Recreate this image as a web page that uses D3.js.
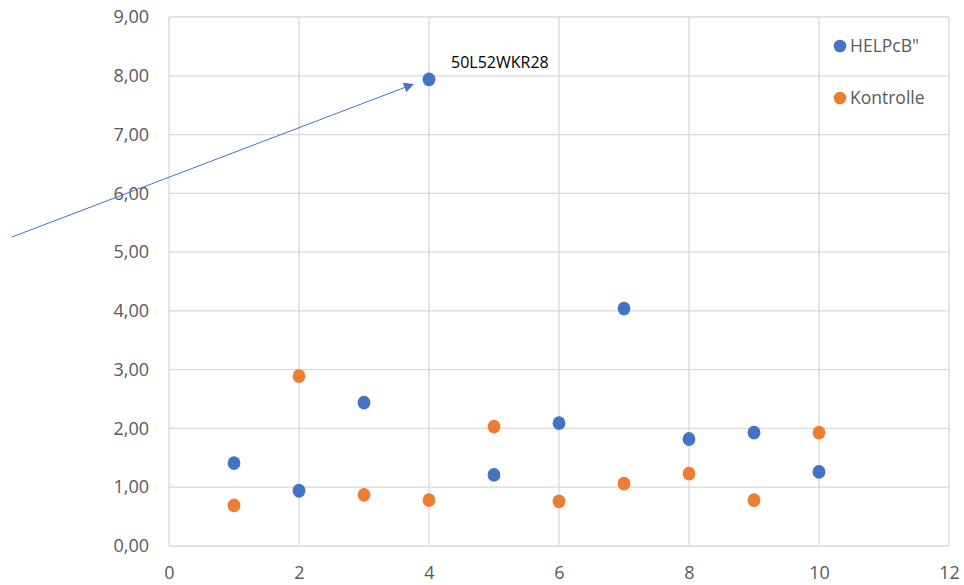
<!DOCTYPE html>
<html>
<head>
<meta charset="utf-8">
<script src="https://cdn.jsdelivr.net/npm/d3@7"></script>
<style>
  html, body { margin: 0; padding: 0; background: #fff; }
  svg { display: block; font-family: "Open Sans", "Noto Sans", sans-serif; }
</style>
</head>
<body>
<svg id="chart" width="964" height="585"></svg>
<script>
// Sample index (x) and the two measured series
const xValues = [1, 2, 3, 4, 5, 6, 7, 8, 9, 10];
const helpcbValues = [1.41, 0.94, 2.44, 7.94, 1.21, 2.09, 4.04, 1.82, 1.93, 1.26];
const kontrolleValues = [0.69, 2.89, 0.87, 0.78, 2.03, 0.76, 1.06, 1.23, 0.78, 1.93];
const seriesNames = ['HELPcB"', "Kontrolle"];
const seriesColors = ["#4472C4", "#ED7D31"];
const xTicks = [0, 2, 4, 6, 8, 10, 12];
const yTicks = [0, 1, 2, 3, 4, 5, 6, 7, 8, 9];
const annotation = { label: "50L52WKR28", index: 3 };

const svg = d3.select("#chart");
const plotLeft = 169, plotRight = 949, plotTop = 17, plotBottom = 546;

const x = d3.scaleLinear().domain([0, 12]).range([plotLeft, plotRight]);
const y = d3.scaleLinear().domain([0, 9]).range([plotBottom, plotTop]);
const fmt = v => d3.format(".2f")(v).replace(".", ",");

// Grid
const grid = svg.append("g");
grid.selectAll("line.h").data(yTicks).join("line").attr("class", "h")
  .attr("x1", plotLeft).attr("x2", plotRight)
  .attr("y1", d => y(d)).attr("y2", d => y(d))
  .attr("stroke", "#d9d9d9").attr("stroke-width", 1.3);
grid.selectAll("line.v").data(xTicks).join("line").attr("class", "v")
  .attr("x1", d => x(d)).attr("x2", d => x(d))
  .attr("y1", plotTop).attr("y2", plotBottom)
  .attr("stroke", "#d9d9d9").attr("stroke-width", 1.3);

// Axes (labels only, lines come from the grid)
const yAxis = svg.append("g").attr("transform", `translate(${plotLeft - 20},0)`)
  .call(d3.axisLeft(y).tickValues(yTicks).tickFormat(fmt).tickSize(0).tickPadding(0));
const xAxis = svg.append("g").attr("transform", `translate(0,${plotBottom + 33})`)
  .call(d3.axisBottom(x).tickValues(xTicks).tickSize(0).tickPadding(0));
[yAxis, xAxis].forEach(a => {
  a.select(".domain").remove();
  a.selectAll("text").attr("fill", "#595959").attr("font-size", 18)
    .attr("font-family", "'Open Sans', 'Noto Sans', sans-serif");
});
// x labels sit on a fixed baseline close to the bottom edge
xAxis.selectAll("text").attr("dy", 0).attr("y", 0);

// Points
const series = [helpcbValues, kontrolleValues];
series.forEach((vals, i) => {
  svg.append("g").selectAll("ellipse").data(vals).join("ellipse")
    .attr("cx", (d, j) => x(xValues[j]))
    .attr("cy", d => y(d))
    .attr("rx", 6.4).attr("ry", 6.9)
    .attr("fill", seriesColors[i]);
});

// Annotation arrow pointing to the outlier
const ax = x(xValues[annotation.index]);
const ay = y(helpcbValues[annotation.index]);
svg.append("defs").append("marker")
  .attr("id", "arrowhead").attr("viewBox", "0 0 10 10")
  .attr("refX", 9).attr("refY", 5)
  .attr("markerWidth", 13).attr("markerHeight", 10)
  .attr("markerUnits", "userSpaceOnUse")
  .attr("orient", "auto")
  .append("path").attr("d", "M0,0 L10,5 L0,10 Z").attr("fill", "#4472C4");
svg.append("line")
  .attr("x1", 12).attr("y1", 237)
  .attr("x2", ax - 16).attr("y2", ay + 5)
  .attr("stroke", "#4472C4").attr("stroke-width", 1)
  .attr("marker-end", "url(#arrowhead)");
svg.append("text")
  .attr("x", ax + 22).attr("y", ay - 11)
  .attr("font-size", 16).attr("fill", "#000")
  .text(annotation.label);

// Legend
const legend = svg.append("g");
seriesNames.forEach((name, i) => {
  const ly = 46 + i * 52;
  legend.append("circle").attr("cx", 840).attr("cy", ly).attr("r", 6.3)
    .attr("fill", seriesColors[i]);
  legend.append("text").attr("x", 850).attr("y", ly).attr("dy", "0.36em")
    .attr("font-size", 17.5).attr("fill", "#595959").text(name);
});
</script>
</body>
</html>
